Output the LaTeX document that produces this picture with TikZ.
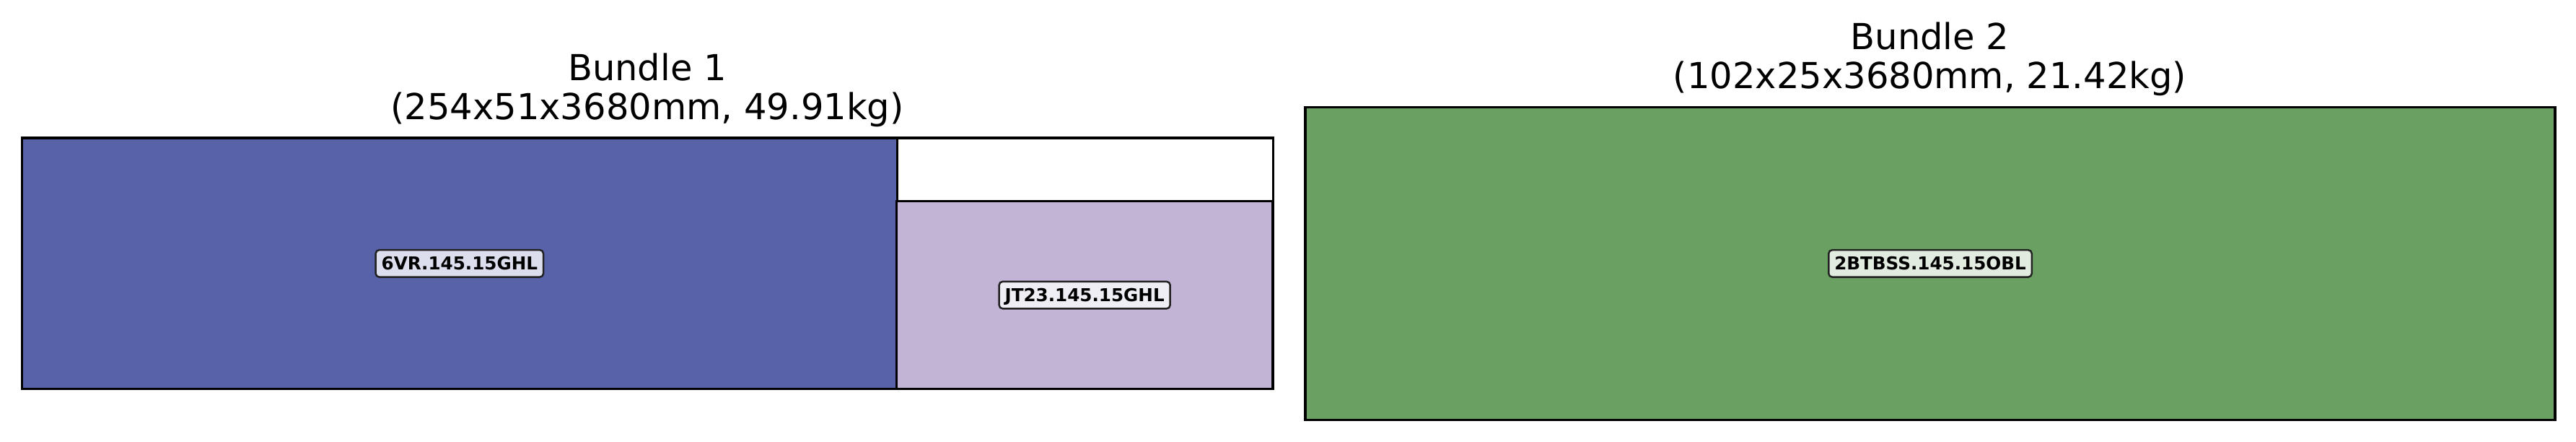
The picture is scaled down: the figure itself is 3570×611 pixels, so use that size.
\documentclass[tikz,border=0pt]{standalone}
\usepackage{fontspec}
\setmainfont{DejaVu Sans}
\definecolor{itemblue}{HTML}{5762A8}
\definecolor{itempurple}{HTML}{C2B4D5}
\definecolor{itemgreen}{HTML}{6AA163}
\definecolor{lblblue}{HTML}{DCDEEE}
\definecolor{lblpurple}{HTML}{F0EEF5}
\definecolor{lblgreen}{HTML}{E2EBE0}
\definecolor{lbledge}{HTML}{222222}
\begin{document}
\begin{tikzpicture}[x=0.01cm,y=-0.01cm,
  box/.style={draw=black,line width=0.033cm,inner sep=0pt,outer sep=0pt,anchor=north west},
  ttl/.style={anchor=base,inner sep=0pt,font=\fontsize{14.1}{17}\selectfont},
  lbl/.style={draw=lbledge,line width=0.025cm,rounded corners=0.05cm,inner xsep=0.08cm,inner ysep=0pt,
    minimum height=0.375cm,text height=0.18cm,text depth=0pt,
    font=\fontsize{7}{8}\selectfont\bfseries}]
\useasboundingbox (0,0) rectangle (3570,611);
% Bundle 1
\node[box,fill=white,minimum width=17.33cm,minimum height=3.475cm] (bundleA) at (30.5,191) {};
\node[box,fill=itemblue,minimum width=12.12cm,minimum height=3.475cm] (itemA) at (30.5,191) {};
\node[box,fill=itempurple,minimum width=5.21cm,minimum height=2.60cm] (itemB) at (1242.5,278.5) {};
\node[lbl,fill=lblblue] (lblA) at (itemA.center) {6VR.145.15GHL};
\node[lbl,fill=lblpurple] (lblB) at (itemB.center) {JT23.145.15GHL};
\node[ttl] (titleA1) at (897,111) {Bundle 1};
\node[ttl] (titleA2) at (897,165) {(254x51x3680mm, 49.91kg)};
% Bundle 2
\node[box,fill=itemgreen,minimum width=17.31cm,minimum height=4.325cm] (bundleB) at (1809,148.5) {};
\node[lbl,fill=lblgreen] (lblC) at (bundleB.center) {2BTBSS.145.15OBL};
\node[ttl] (titleB1) at (2674.5,68.5) {Bundle 2};
\node[ttl] (titleB2) at (2674.5,122.5) {(102x25x3680mm, 21.42kg)};
\end{tikzpicture}
\end{document}
